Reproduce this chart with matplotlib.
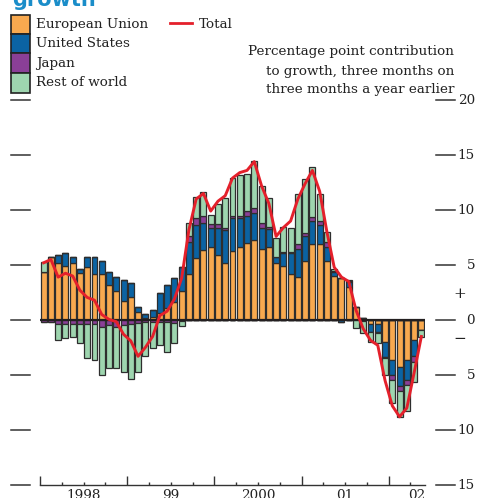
import matplotlib
matplotlib.use("Agg")
import matplotlib.pyplot as plt
import numpy as np
from matplotlib.patches import Rectangle
from matplotlib.lines import Line2D
from matplotlib.transforms import blended_transform_factory

# ---- data (Jan 1998 - May 2002, monthly) ----
eu = [4.35, 5.7, 5.15, 4.9, 5.15, 4.3, 4.8, 4.2, 4.2, 3.2, 2.6, 1.7, 2.05, 0.7, 0.15, 0.3, 0.6, 1.1, 1.65, 2.6,
      4.2, 5.65, 6.4, 6.6, 5.9, 5.15, 6.25, 6.65, 7.0, 7.25, 6.45, 6.65, 5.15, 4.9, 4.2, 3.95, 5.35, 6.9, 6.9, 5.35,
      4.0, 3.85, 3.0, 1.15, 0.2, -0.4, -0.4, -1.97, -3.64, -4.24, -3.64, -1.8, -0.9]
us = [0, 0.05, 0.75, 1.2, 0.55, 0.3, 0.9, 1.5, 1.15, 1.15, 1.35, 1.9, 1.35, 0.45, 0.4, 0.65, 1.9, 2.1, 2.15, 2.2,
      2.9, 2.95, 2.4, 1.8, 2.5, 3.0, 3.05, 2.65, 2.5, 2.45, 1.95, 1.6, 0.55, 1.2, 1.9, 2.5, 2.25, 2.1, 1.7, 1.3,
      0.4, -0.2, 0.5, 0, 0, -0.65, -0.65, -1.35, -1.35, -1.8, -1.8, -1.5, 0]
jp = [-0.15, -0.2, -0.35, -0.35, -0.35, -0.4, -0.35, -0.4, -0.6, -0.45, -0.6, -0.45, -0.4, -0.25, -0.15, -0.15, -0.15, -0.15, -0.3, -0.1,
      0.5, 0.7, 0.7, 0.3, 0.3, 0.25, 0.2, 0.2, 0.4, 0.45, 0.4, 0.25, 0.05, 0.05, 0.1, 0.45, 0.3, 0.4, 0.4, 0.4,
      0.05, 0, 0.05, 0, -0.05, -0.05, -0.1, -0.1, -0.45, -0.4, -0.45, -0.5, 0]
row = [0.95, 0, -1.5, -1.3, -1.2, -1.7, -3.1, -3.2, -4.4, -3.9, -3.8, -4.3, -4.95, -4.5, -3.15, -2.35, -2.15, -2.75, -1.75, -0.45,
       1.2, 1.9, 2.1, 0.8, 1.8, 2.65, 3.4, 3.7, 3.4, 4.35, 3.4, 2.6, 1.7, 2.35, 2.2, 4.6, 4.9, 4.5, 2.45, 0.95,
       0.15, 0, 0.1, -0.75, -1.1, -0.9, -0.95, -1.6, -2.15, -2.35, -2.4, -1.8, -0.6]
total = [5.2, 5.5, 3.9, 4.25, 4.0, 2.7, 2.05, 1.8, 0.5, 0.05, -0.15, -1.3, -1.9, -3.3, -2.5, -1.5, 0.4, 0.8, 1.9, 3.8,
         8.2, 11.0, 11.5, 9.9, 10.8, 11.3, 12.9, 13.4, 13.6, 14.4, 12.2, 10.6, 7.6, 8.4, 9.0, 11.0, 12.4, 13.6, 11.7, 8.0,
         4.8, 3.9, 3.5, 0.9, -0.8, -1.85, -2.3, -5.5, -7.8, -8.8, -8.0, -4.8, -1.5]

series_names = ["European Union", "United States", "Japan", "Rest of world"]
series_vals = [eu, us, jp, row]
colors = ["#f8a94f", "#0b63a3", "#8a3f97", "#9ed5af"]
red = "#e4202b"
edge = "#2e2e2e"

year_labels = ["1998", "99", "2000", "01", "02"]
year_label_pos = [6, 18, 30, 42, 51.9]
ytick_vals = [20, 15, 10, 5, 0, -5, -10, -15]
ytick_labels = ["20", "15", "10", "5", "0", "5", "10", "15"]

W, H = 496, 498
fig = plt.figure(figsize=(W / 100, H / 100), dpi=100)
fx = lambda px: px / W
fy = lambda py: 1 - py / H

FONT = "DejaVu Serif"
FS = 9.7

ax = fig.add_axes([fx(40), fy(485), fx(425) - fx(40), fy(100) - fy(485)])
n = len(eu)
ax.set_xlim(0, n)
ax.set_ylim(-15, 20)
x = np.arange(n) + 0.5

pos_bottom = np.zeros(n)
neg_bottom = np.zeros(n)
for vals, c in zip(series_vals, colors):
    v = np.array(vals, dtype=float)
    pos = np.where(v > 0, v, 0)
    neg = np.where(v < 0, v, 0)
    ax.bar(x, pos, bottom=pos_bottom, width=0.82, color=c, edgecolor=edge, linewidth=0.9, zorder=2)
    ax.bar(x, neg, bottom=neg_bottom, width=0.82, color=c, edgecolor=edge, linewidth=0.9, zorder=2)
    pos_bottom += pos
    neg_bottom += neg

ax.plot([0, n], [0, 0], color="#231f20", lw=1.6, zorder=3, solid_capstyle="butt")
ax.plot(x, total, color=red, lw=2.1, zorder=4, solid_joinstyle="round")

# axis styling
for s in ["top", "left", "right"]:
    ax.spines[s].set_visible(False)
ax.spines["bottom"].set_color("#333333")
ax.spines["bottom"].set_linewidth(1.0)
ax.set_yticks([])
ax.set_xticks([0, 12, 24, 36, 48])
ax.set_xticks([m for m in range(3, n, 3) if m % 12 != 0], minor=True)
ax.tick_params(axis="x", which="major", direction="in", length=6.5, width=1.0, color="#333333", labelbottom=False)
ax.tick_params(axis="x", which="minor", direction="in", length=2.3, width=1.0, color="#333333")
ax.set_facecolor("none")

bt = blended_transform_factory(ax.transData, fig.transFigure)
for lab, p in zip(year_labels, year_label_pos):
    ax.text(p, fy(489), lab, transform=bt, ha="center", va="top", fontsize=FS, family=FONT, color="#222222")

# y ticks left and right (drawn manually)
yt = blended_transform_factory(fig.transFigure, ax.transData)
for v, lab in zip(ytick_vals, ytick_labels):
    fig.add_artist(Line2D([fx(11), fx(30)], [v, v], transform=yt, color="#333333", lw=1.1))
    fig.add_artist(Line2D([fx(436), fx(455)], [v, v], transform=yt, color="#333333", lw=1.1))
    fig.text(fx(475), v, lab, transform=yt, ha="right", va="center", fontsize=FS, family=FONT, color="#222222")
fig.text(fx(460), fy(294), "+", ha="center", va="center", fontsize=11, family=FONT, color="#222222")
fig.text(fx(460), fy(339), "\u2212", ha="center", va="center", fontsize=11, family=FONT, color="#222222")

# legend
box_y = [(15, 34), (34, 53), (53, 73), (73, 93)]
for (y0, y1), c, name in zip(box_y, colors, series_names):
    fig.add_artist(Rectangle((fx(11), fy(y1)), fx(30) - fx(11), fy(y0) - fy(y1), transform=fig.transFigure,
                             facecolor=c, edgecolor="#222222", lw=1.2))
    fig.text(fx(36), fy((y0 + y1) / 2), name, ha="left", va="center", fontsize=FS, family=FONT, color="#222222")
fig.add_artist(Line2D([fx(170), fx(192)], [fy(23.5), fy(23.5)], transform=fig.transFigure, color=red, lw=2))
fig.text(fx(199), fy(24), "Total", ha="left", va="center", fontsize=FS, family=FONT, color="#222222")

# subtitle
for line, yy in zip(["Percentage point contribution", "to growth, three months on", "three months a year earlier"],
                    [52, 71, 89]):
    fig.text(fx(454), fy(yy), line, ha="right", va="center", fontsize=FS, family=FONT, color="#222222")

# title (cut off at the top, as in the original)
fig.text(fx(12), fy(6), "growth", ha="left", va="baseline", fontsize=15, fontweight="bold",
         family="DejaVu Sans", color="#1a8dc9")

fig.savefig("out.png", dpi=100)
